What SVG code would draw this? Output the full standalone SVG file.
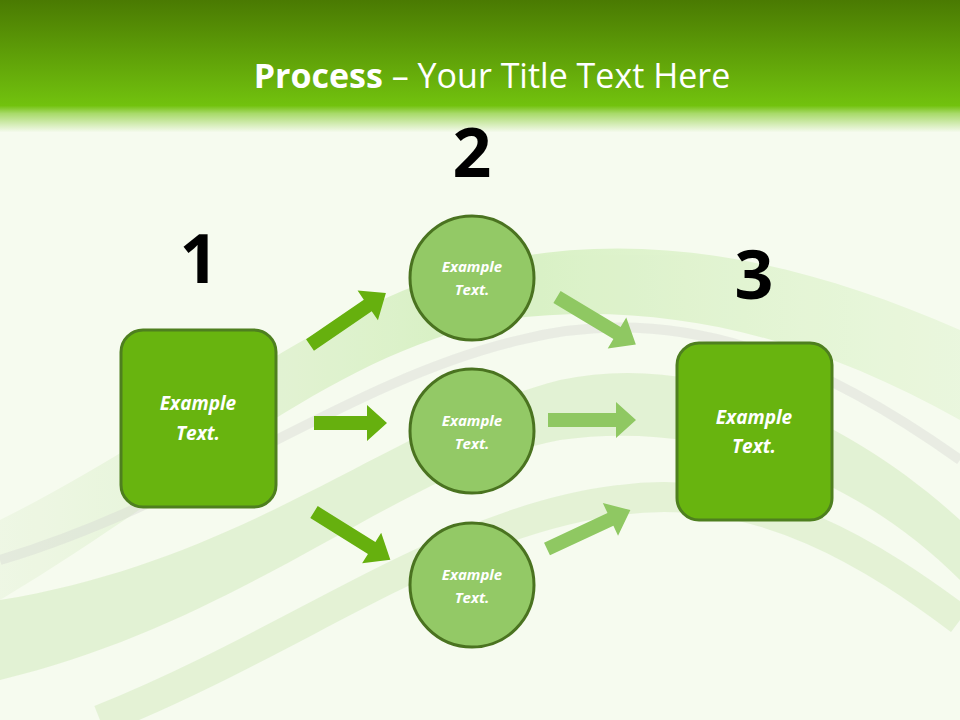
<svg xmlns="http://www.w3.org/2000/svg" width="960" height="720" viewBox="0 0 960 720">
<defs>
<linearGradient id="hdr" x1="0" y1="0" x2="0" y2="1">
<stop offset="0" stop-color="#4a7a02"/><stop offset="0.8" stop-color="#72c20e"/><stop offset="0.86" stop-color="#a8da6a"/><stop offset="1" stop-color="#f4faec"/>
</linearGradient>
<linearGradient id="wave" x1="0" y1="0" x2="1" y2="0">
<stop offset="0" stop-color="#c9e6b0" stop-opacity="0.2"/><stop offset="0.5" stop-color="#bfe8a0" stop-opacity="0.7"/><stop offset="1" stop-color="#d9f2c4" stop-opacity="0.5"/>
</linearGradient>
<style>
.sq{fill:#68b40f;stroke:#4e7f1f;stroke-width:3}
.ci{fill:#93c966;stroke:#4a7320;stroke-width:3}
.t1{font-family:"Open Sans","Liberation Sans",sans-serif;font-weight:bold;font-style:italic;fill:#fff;text-anchor:middle}
.num{font-family:"Open Sans","Liberation Sans",sans-serif;font-weight:bold;font-size:68px;fill:#000;text-anchor:middle}
.a1{fill:#66b00e}
.a2{fill:#8fc862}
</style>
</defs>
<rect width="960" height="720" fill="#f6fbef"/>
<rect width="960" height="132" fill="url(#hdr)"/>
<g opacity="0.8">
<path d="M0,520 C200,420 320,300 500,260 C650,230 800,260 960,330 L960,420 C800,330 650,300 500,320 C320,360 200,480 0,600Z" fill="url(#wave)"/>
<path d="M0,600 C250,560 400,420 560,380 C700,350 850,420 960,520 L960,580 C850,470 700,420 560,440 C400,470 250,620 0,680Z" fill="#cfe9b8" opacity="0.6"/>
<path d="M0,560 C200,500 350,380 520,340 C680,300 820,360 960,460" fill="none" stroke="#c8c8c8" stroke-width="10" opacity="0.35"/>
<path d="M100,720 C300,640 450,520 620,500 C760,480 880,560 960,620" fill="none" stroke="#c9e8b0" stroke-width="30" opacity="0.5"/>
</g>
<text x="492" y="88" font-family="Open Sans, Liberation Sans, sans-serif" font-size="34" fill="#fff" text-anchor="middle"><tspan font-weight="bold">Process</tspan> – Your Title Text Here</text>
<g id="num1"><text class="num" x="199" y="283">1</text></g>
<g id="num2"><text class="num" x="472" y="177">2</text></g>
<g id="num3"><text class="num" x="754" y="299">3</text></g>
<g id="connectors">
<path class="a1" transform="translate(310,345) rotate(-34.4)" d="M0,-7H70V-18L92,0L70,18V7H0Z"/>
<path class="a1" transform="translate(314,423)" d="M0,-7H53V-18L73,0L53,18V7H0Z"/>
<path class="a1" transform="translate(314,512) rotate(32)" d="M0,-7H68V-18L90,0L68,18V7H0Z"/>
<path class="a2" transform="translate(557,297) rotate(31)" d="M0,-7H70V-18L92,0L70,18V7H0Z"/>
<path class="a2" transform="translate(548,420)" d="M0,-7H68V-18L88,0L68,18V7H0Z"/>
<path class="a2" transform="translate(547,549) rotate(-25)" d="M0,-7H70V-18L92,0L70,18V7H0Z"/>
</g>
<g id="node1"><rect class="sq" x="121" y="330" width="155" height="177" rx="22"/>
<text class="t1" x="198" y="410" font-size="19">Example</text><text class="t1" x="198" y="440" font-size="19">Text.</text></g>
<g id="node2a"><circle class="ci" cx="472" cy="278" r="62"/>
<text class="t1" x="472" y="272" font-size="15">Example</text><text class="t1" x="472" y="295" font-size="15">Text.</text></g>
<g id="node2b"><circle class="ci" cx="472" cy="431" r="62"/>
<text class="t1" x="472" y="426" font-size="15">Example</text><text class="t1" x="472" y="449" font-size="15">Text.</text></g>
<g id="node2c"><circle class="ci" cx="472" cy="585" r="62"/>
<text class="t1" x="472" y="580" font-size="15">Example</text><text class="t1" x="472" y="603" font-size="15">Text.</text></g>
<g id="node3"><rect class="sq" x="677" y="343" width="155" height="177" rx="22"/>
<text class="t1" x="754" y="424" font-size="19">Example</text><text class="t1" x="754" y="453" font-size="19">Text.</text></g>
</svg>
